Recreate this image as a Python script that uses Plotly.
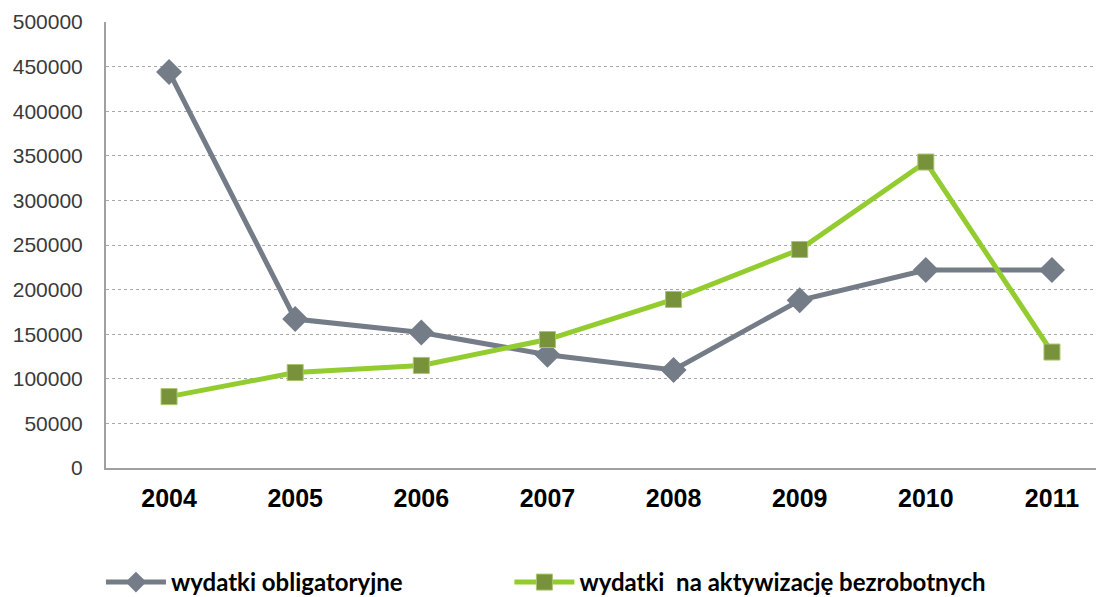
import plotly.graph_objects as go

years = ["2004", "2005", "2006", "2007", "2008", "2009", "2010", "2011"]
obligatoryjne = [444000, 167000, 152000, 127000, 110000, 188000, 222000, 222000]
aktywizacja = [80000, 107000, 115000, 144000, 189000, 245000, 343000, 130000]
y_ticks = [0, 50000, 100000, 150000, 200000, 250000, 300000, 350000, 400000, 450000, 500000]

fig = go.Figure()
fig.add_trace(go.Scatter(
    x=years, y=obligatoryjne, mode="lines+markers", name="wydatki obligatoryjne",
    line=dict(color="#747C87", width=5),
    marker=dict(symbol="diamond", size=20, color="#747C87"),
    legend="legend",
))
fig.add_trace(go.Scatter(
    x=years, y=aktywizacja, mode="lines+markers", name="wydatki  na aktywizację bezrobotnych",
    line=dict(color="#93CC2E", width=5),
    marker=dict(symbol="square", size=16, color="#77923A", line=dict(color="#A9C46E", width=1)),
    legend="legend2",
))

legend_font = dict(family="Lato", size=24, color="#000000", weight="bold")
fig.update_layout(
    width=1104, height=597,
    margin=dict(l=98, r=0, t=14, b=137),
    paper_bgcolor="white", plot_bgcolor="white",
    showlegend=True,
    legend=dict(x=-0.005, y=-0.258, xanchor="left", yanchor="middle",
                font=legend_font, itemwidth=60, bgcolor="rgba(0,0,0,0)"),
    legend2=dict(x=0.401, y=-0.258, xanchor="left", yanchor="middle",
                 font=legend_font, itemwidth=60, bgcolor="rgba(0,0,0,0)"),
    xaxis=dict(type="category", range=[-0.5, 7.476], showline=True, linecolor="#A0A0A0", linewidth=2,
               showgrid=False, ticks="", tickfont=dict(family="Arial", size=25, color="#000000", weight="bold"),
               ticklabelstandoff=7),
    yaxis=dict(range=[0, 500000], tickvals=y_ticks, ticktext=[str(v) for v in y_ticks],
               showline=True, linecolor="#A0A0A0", linewidth=2, showgrid=True, gridcolor="#A8A8A8",
               griddash="dot", gridwidth=1, ticks="", zeroline=False,
               tickfont=dict(family="Arial", size=21, color="#3A3A3A"), ticklabelstandoff=17),
)
fig.write_html("out.html")
